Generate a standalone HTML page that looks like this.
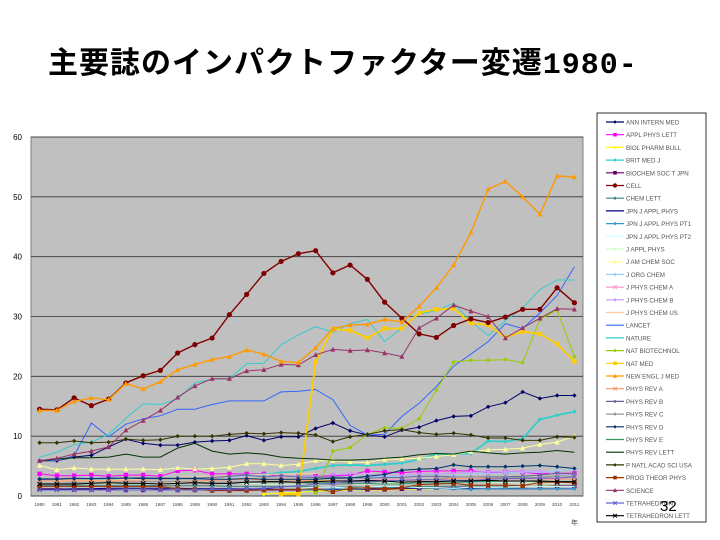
<!DOCTYPE html>
<html><head><meta charset="utf-8"><style>
body{margin:0;width:720px;height:540px;background:#fff;overflow:hidden;font-family:"Liberation Sans","Noto Sans CJK JP",sans-serif;}
#title{position:absolute;left:48px;top:38px;font-size:30px;font-weight:bold;color:#000;letter-spacing:1px;font-family:"Liberation Mono","Noto Sans CJK JP",monospace;}
svg{position:absolute;left:0;top:0}
</style></head><body>
<div id="title">主要誌のインパクトファクター変遷1980-</div>
<svg id="chart" width="720" height="540"></svg>
<script>
const years=[];for(let y=1980;y<=2011;y++)years.push(String(y));
const yTicks=[0,10,20,30,40,50,60];
const names=["ANN INTERN MED","APPL PHYS LETT","BIOL PHARM BULL","BRIT MED J","BIOCHEM SOC T JPN","CELL","CHEM LETT","JPN J APPL PHYS","JPN J APPL PHYS PT1","JPN J APPL PHYS PT2","J APPL PHYS","J AM CHEM SOC","J ORG CHEM","J PHYS CHEM A","J PHYS CHEM B","J PHYS CHEM US","LANCET","NATURE","NAT BIOTECHNOL","NAT MED","NEW ENGL J MED","PHYS REV A","PHYS REV B","PHYS REV C","PHYS REV D","PHYS REV E","PHYS REV LETT","P NATL ACAD SCI USA","PROG THEOR PHYS","SCIENCE","TETRAHEDRON","TETRAHEDRON LETT"];
const colors=["#000066","#ff00ff","#ffff00","#33cccc","#660066","#800000","#408080","#000080","#3399cc","#ccffff","#ccffcc","#ffff99","#99ccff","#ff99cc","#cc99ff","#ffcc99","#3366ff","#33cccc","#99cc00","#ffcc00","#ff9900","#ff9966","#666699","#969696","#003366","#339966","#003300","#333300","#993300","#993366","#6666cc","#000000"];
const markers=["d","s","d","d","s","c","d","n","d","n","d","t","d","x","d","n","n","n","d","s","t","x","d","d","d","n","n","d","s","t","x","x"];
const annInternMed=[5.9,5.9,6.5,6.8,8.2,9.5,8.8,8.5,8.5,9.0,9.2,9.3,10.1,9.3,9.9,9.9,11.3,12.2,10.9,10.2,9.9,11.0,11.5,12.6,13.3,13.4,14.9,15.6,17.4,16.3,16.8,16.8];
const applPhysLett=[3.7,3.4,3.4,3.5,3.3,3.5,3.5,3.3,4.2,4.3,3.7,3.7,3.7,3.7,3.3,3.3,3.3,3.4,3.5,4.2,4.0,3.9,4.1,4.2,4.2,4.2,4.0,4.0,4.0,3.7,3.8,3.8];
const biolPharmBull=[null,null,null,null,null,null,null,null,null,null,null,null,null,0.3,0.5,0.6,0.8,0.9,1.0,1.0,1.0,1.1,1.2,1.2,1.3,1.5,1.6,1.6,1.6,1.7,1.7,1.6];
const britMedJ=[2.8,2.8,2.9,2.9,2.9,2.8,3.0,3.0,3.0,3.1,3.2,3.3,3.5,3.6,3.9,4.1,4.6,5.1,5.2,5.1,5.3,5.5,6.1,7.0,7.0,7.1,9.2,9.1,9.6,12.8,13.5,14.1].map((v,i)=>v);
const biochemSoc=[1.2,1.2,1.1,1.1,1.1,1.0,1.0,1.1,1.0,1.0,1.0,1.0,1.0,1.0,1.0,1.0,1.1,1.1,1.1,1.1,1.1,1.2,1.3,1.4,1.4,1.5,1.5,1.6,1.6,1.6,1.7,1.7];
const cell=[14.5,14.4,16.4,15.1,16.2,18.9,20.1,21.0,23.9,25.3,26.4,30.3,33.7,37.2,39.2,40.5,41.0,37.3,38.6,36.2,32.4,29.7,27.1,26.5,28.5,29.6,29.0,29.9,31.2,31.2,34.8,32.3];
const chemLett=[1.8,1.8,1.8,1.8,1.8,1.8,1.8,1.7,1.7,1.7,1.7,1.6,1.6,1.6,1.6,1.6,1.6,1.5,1.5,1.5,1.5,1.5,1.6,1.6,1.6,1.7,1.6,1.6,1.6,1.6,1.6,1.6];
const jpnJApplPhys=[1.1,1.1,1.2,1.2,1.3,1.3,1.3,1.3,1.3,1.2,1.2,1.2,1.2,1.2,1.1,1.1,1.1,1.1,1.1,1.2,1.3,1.4,1.3,1.3,1.2,1.2,1.2,1.2,1.2,1.2,1.2,1.2];
const jpnPt1=[null,null,null,null,null,null,null,null,null,null,null,null,null,null,null,1.0,1.0,1.2,1.1,1.3,1.4,1.4,1.4,1.3,1.2,1.1,1.2,1.3,1.3,1.2,1.2,1.2];
const jpnPt2=[null,null,null,null,null,null,null,null,null,null,null,null,null,null,null,1.2,1.5,1.5,1.3,1.5,1.6,1.6,1.4,1.4,1.3,1.5,1.5,1.5,1.6,1.6,1.6,1.6];
const jApplPhys=[2.0,2.0,2.0,2.0,2.0,2.0,2.0,2.0,2.2,2.3,2.3,2.2,2.1,2.0,2.0,2.0,1.9,1.9,2.0,2.0,2.2,2.1,2.3,2.2,2.3,2.4,2.3,2.2,2.2,2.2,2.1,2.2];
const jAmChemSoc=[5.1,4.4,4.7,4.5,4.5,4.5,4.5,4.4,4.7,4.5,4.6,4.8,5.4,5.4,5.1,5.3,5.9,5.9,5.7,5.6,6.1,6.2,6.3,6.6,6.9,7.4,7.7,7.8,8.0,8.6,9.0,10.0];
const jOrgChem=[2.9,2.9,3.0,3.0,3.0,2.9,3.0,3.0,3.0,3.0,3.1,3.2,3.3,3.3,3.3,3.3,3.2,3.2,3.2,3.2,3.3,3.3,3.3,3.4,3.3,3.7,3.8,3.9,4.0,4.0,4.2,4.5];
const jPhysChemA=[null,null,null,null,null,null,null,null,null,null,null,null,null,null,null,null,null,2.0,2.4,2.6,2.8,2.7,2.8,2.7,2.9,2.9,3.0,2.9,2.9,2.9,2.7,2.9];
const jPhysChemB=[null,null,null,null,null,null,null,null,null,null,null,null,null,null,null,null,null,3.5,3.8,3.6,3.6,3.4,3.7,3.7,3.8,4.0,4.1,4.1,4.2,4.2,3.6,3.7];
const jPhysChemUs=[2.8,2.7,2.7,2.6,2.6,2.8,2.8,3.0,3.1,3.2,3.3,3.4,3.5,3.6,3.7,3.7,3.8,null,null,null,null,null,null,null,null,null,null,null,null,null,null,null];
const lancet=[6.0,5.9,6.7,12.2,9.9,12.0,12.9,13.4,14.5,14.5,15.3,15.9,15.9,15.9,17.4,17.5,17.8,16.1,11.8,10.2,10.3,13.3,15.5,18.3,21.7,23.7,25.8,28.8,28.0,30.6,33.5,38.3];
const nature=[6.5,7.3,8.6,9.0,10.3,13.0,15.4,15.3,16.2,18.9,19.5,19.6,22.1,22.2,25.3,26.9,28.3,27.4,28.8,29.5,25.8,28.1,30.4,31.0,32.2,29.2,26.8,29.3,31.4,34.5,36.1,36.1];
const natBiotechnol=[null,null,null,null,null,null,null,null,null,null,null,null,null,null,null,null,0.5,7.5,8.1,10.3,11.4,11.3,12.9,17.7,22.4,22.7,22.7,22.8,22.3,29.5,31.1,23.3];
const natMed=[null,null,null,null,null,null,null,null,null,null,null,null,null,null,0.3,0.3,22.4,27.9,27.7,26.4,28.0,28.0,30.6,31.2,31.3,28.9,28.6,26.5,27.5,27.1,25.4,22.5];
const nEnglJMed=[14.3,14.3,15.8,16.4,16.1,18.8,17.9,19.1,21.1,22.0,22.8,23.3,24.4,23.7,22.5,22.3,24.8,28.0,28.6,28.7,29.5,29.1,31.7,34.8,38.6,44.0,51.3,52.6,50.0,47.1,53.5,53.3];
const physRevA=[2.5,2.5,2.5,2.5,2.5,2.5,2.5,2.4,2.4,2.5,2.6,2.7,2.8,2.7,2.7,2.6,2.5,2.6,2.4,2.4,2.5,2.6,2.6,2.9,2.9,2.9,3.0,2.9,2.9,2.9,2.9,2.8];
const physRevB=[2.9,2.9,3.0,2.9,2.9,3.0,3.1,3.0,3.0,3.0,3.1,3.3,3.5,3.2,3.4,3.2,3.1,3.2,3.1,3.0,3.1,3.1,3.3,3.3,3.2,3.2,3.2,3.2,3.3,3.5,3.8,3.7];
const physRevC=[2.1,2.1,2.2,2.2,2.3,2.3,2.4,2.4,2.4,2.3,2.3,2.3,2.4,2.2,2.2,2.2,2.0,1.9,2.0,2.2,2.5,2.6,2.7,2.8,3.2,3.2,3.1,3.1,3.1,3.1,3.4,3.3];
const physRevD=[2.8,2.8,2.9,2.9,3.0,3.0,2.9,2.9,2.9,2.9,2.8,2.8,2.9,2.8,2.8,2.8,2.8,3.0,3.0,3.3,3.6,4.3,4.5,4.6,5.2,4.9,4.9,4.9,5.0,5.1,4.9,4.6];
const physRevE=[null,null,null,null,null,null,null,null,null,null,null,null,null,2.3,2.4,2.3,2.2,2.2,2.1,2.1,2.0,2.0,2.2,2.2,2.2,2.4,2.4,2.5,2.5,2.4,2.4,2.4];
const physRevLett=[5.8,6.2,6.4,6.4,6.5,7.0,6.5,6.5,8.0,8.8,7.5,7.0,7.2,7.0,6.5,6.3,6.2,6.0,6.0,6.1,6.3,6.5,6.9,7.1,7.0,7.5,7.2,7.0,7.2,7.3,7.6,7.3];
const pNatlAcadSci=[8.9,8.9,9.2,8.9,9.0,9.5,9.3,9.4,10.0,10.0,10.0,10.3,10.5,10.4,10.6,10.5,10.2,9.1,9.9,10.3,10.9,11.1,10.6,10.3,10.5,10.2,9.7,9.7,9.3,9.3,9.9,9.8];
const progTheorPhys=[1.6,1.6,1.6,1.6,1.6,1.6,1.6,1.6,1.2,1.1,0.9,0.9,0.9,1.0,1.1,1.1,1.2,0.7,1.3,1.4,1.2,1.4,1.9,2.0,2.1,1.8,1.8,1.8,1.7,2.3,2.3,2.2];
const science=[5.9,6.3,7.0,7.5,8.2,11.0,12.6,14.3,16.5,18.4,19.6,19.6,20.9,21.1,22.0,21.9,23.6,24.5,24.3,24.4,23.9,23.3,28.1,29.7,31.9,30.9,30.0,26.4,28.1,29.7,31.3,31.2];
const tetrahedron=[1.0,1.0,1.0,1.0,1.0,1.0,1.0,1.0,1.0,1.0,1.1,1.1,1.2,1.3,1.5,1.7,2.0,2.1,2.4,2.4,2.5,2.6,2.7,2.7,2.6,2.6,2.8,2.9,2.9,3.0,3.0,3.2];
const tetraLett=[2.0,2.0,2.0,2.1,2.2,2.1,2.1,2.0,2.1,2.2,2.1,2.1,2.3,2.4,2.4,2.3,2.4,2.5,2.5,2.6,2.5,2.3,2.4,2.4,2.5,2.5,2.6,2.5,2.5,2.5,2.4,2.4];
const series=[annInternMed,applPhysLett,biolPharmBull,britMedJ,biochemSoc,cell,chemLett,jpnJApplPhys,jpnPt1,jpnPt2,jApplPhys,jAmChemSoc,jOrgChem,jPhysChemA,jPhysChemB,jPhysChemUs,lancet,nature,natBiotechnol,natMed,nEnglJMed,physRevA,physRevB,physRevC,physRevD,physRevE,physRevLett,pNatlAcadSci,progTheorPhys,science,tetrahedron,tetraLett];
const widths={5:1.4,20:1.4,19:1.8,3:1.8};

const NS="http://www.w3.org/2000/svg";
const svg=document.getElementById('chart');
const PL=31,PR=583,PT=137,PB=496,YMAX=60;
const xs=i=>PL+(i+0.5)*(PR-PL)/years.length;
const ys=v=>PB-v/YMAX*(PB-PT);
function mk(t,a,p){const e=document.createElementNS(NS,t);for(const k in a)e.setAttribute(k,a[k]);(p||svg).appendChild(e);return e;}
const bg=mk('rect',{x:PL,y:PT,width:PR-PL,height:PB-PT,fill:'#c0c0c0',stroke:'#808080'});


yTicks.forEach(t=>{
 const g=mk('line',{x1:PL,x2:PR,y1:ys(t),y2:ys(t),stroke:'#333',"stroke-width":0.8});
 
 
 const l=mk('text',{x:22,y:ys(t)+3,"font-size":8,"text-anchor":"end",fill:'#000'});l.textContent=t;
 
 
});
years.forEach((y,i)=>{
 const l=mk('text',{x:xs(i),y:506,"font-size":4.6,"text-anchor":"middle",fill:'#444'});l.textContent=y;
 
 
});
function marker(g,type,x,y,c,s){
 s=s||2.2;
 if(type==='c')mk('circle',{cx:x,cy:y,r:s+0.4,fill:c},g);
 else if(type==='s')mk('rect',{x:x-s,y:y-s,width:2*s,height:2*s,fill:c},g);
 else if(type==='t')mk('polygon',{points:`${x},${y-s-0.5} ${x-s-0.3},${y+s} ${x+s+0.3},${y+s}`,fill:c},g);
 else if(type==='d')mk('polygon',{points:`${x},${y-s} ${x+s},${y} ${x},${y+s} ${x-s},${y}`,fill:c},g);
 else if(type==='x'){mk('path',{d:`M${x-s} ${y-s}L${x+s} ${y+s}M${x-s} ${y+s}L${x+s} ${y-s}`,stroke:c,"stroke-width":1},g);}
}
const order=series.map((_,i)=>i).sort((a,b)=>(a===5||a===20)-(b===5||b===20));
order.forEach(si=>{
 const g=mk('g',{});
 
 
 const d=series[si];let p='';let pen=false;
 d.forEach((v,i)=>{if(v==null){pen=false;return;}p+=(pen?'L':'M')+xs(i).toFixed(1)+' '+ys(v).toFixed(1);pen=true;});
 mk('path',{d:p,fill:'none',stroke:colors[si],"stroke-width":widths[si]||1},g);
 d.forEach((v,i)=>{if(v!=null)marker(g,markers[si],xs(i),ys(v),colors[si]);});
});
// legend
const lg=mk('g',{});


mk('rect',{x:597,y:113,width:109,height:409,fill:'#fff',stroke:'#000',"stroke-width":0.8},lg);
names.forEach((n,i)=>{
 const y=122+i*12.7;
 const e=mk('g',{},lg);
 
 
 mk('line',{x1:606,x2:624,y1:y,y2:y,stroke:colors[i],"stroke-width":1.2},e);
 marker(e,markers[i],615,y,colors[i],1.8);
 const t=mk('text',{x:626,y:y+2.5,"font-size":6.2,fill:'#555'},e);t.textContent=n;
});
const pg=mk('text',{x:660,y:511,"font-size":15,fill:'#000'});pg.textContent='32';


const yr=mk('text',{x:571,y:525,"font-size":7,fill:'#444'});yr.textContent='年';


</script>
</body></html>
